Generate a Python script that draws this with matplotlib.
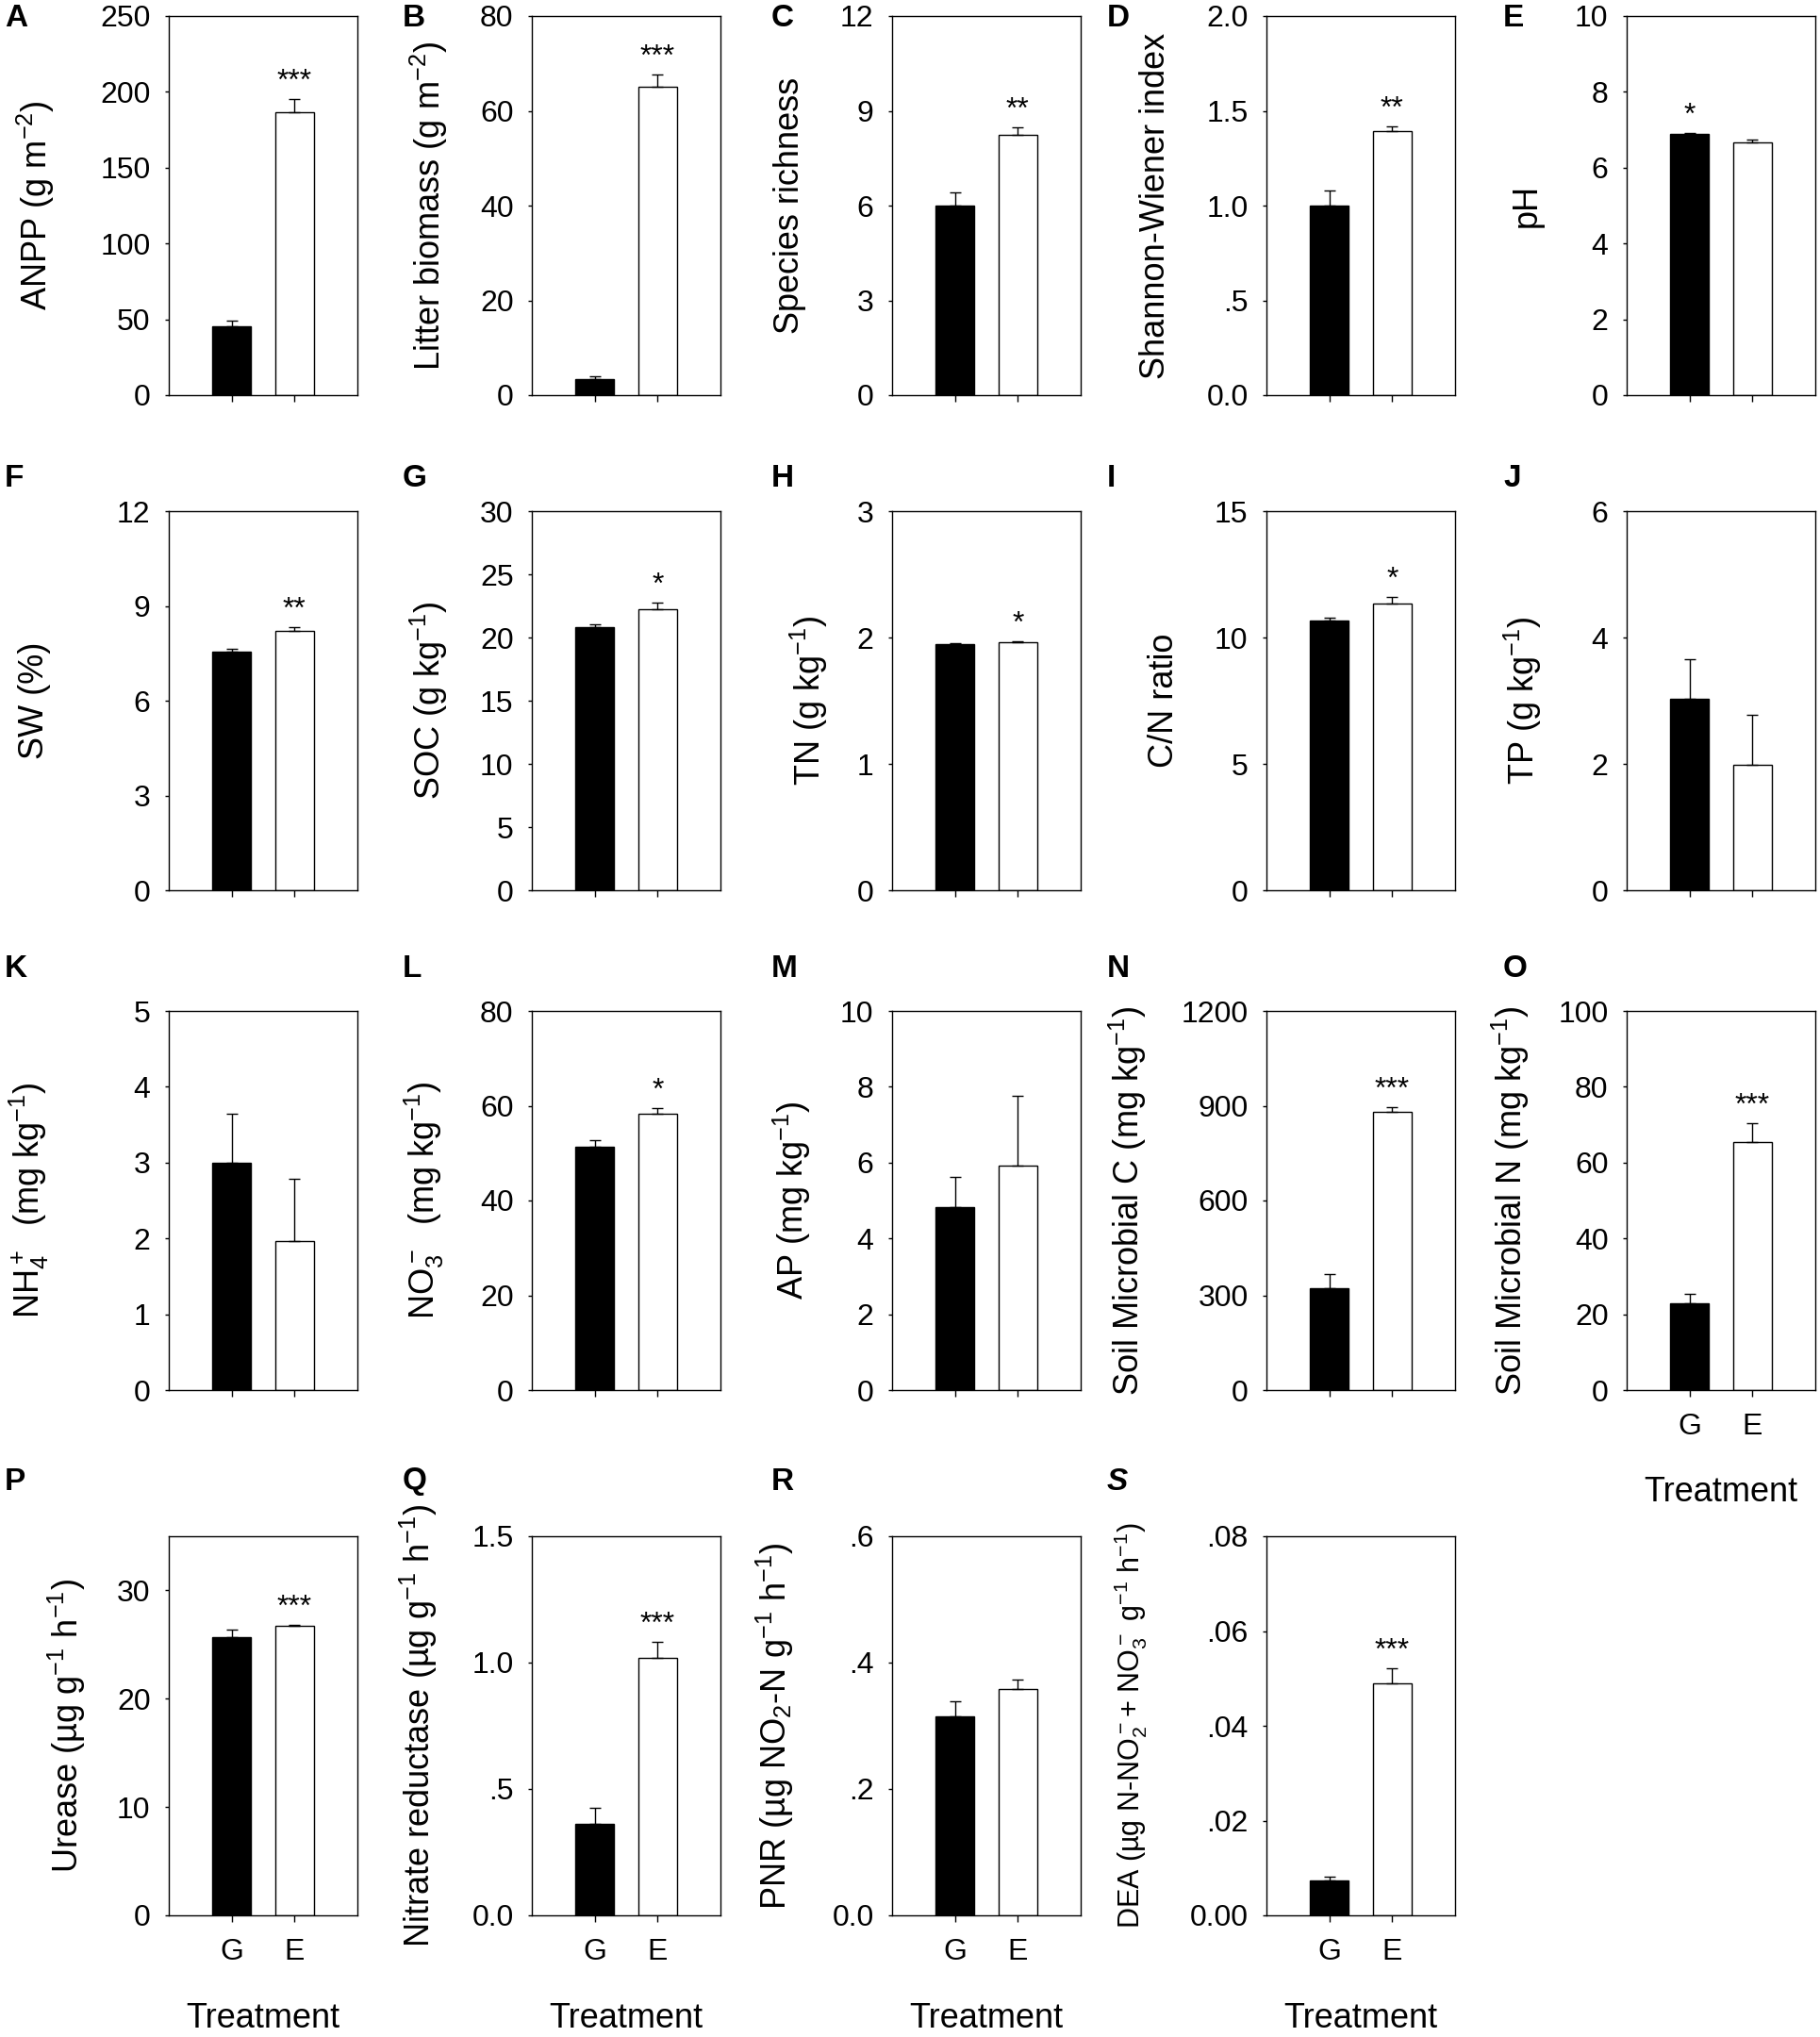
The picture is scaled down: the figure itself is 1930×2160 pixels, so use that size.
import matplotlib
matplotlib.use("Agg")
import matplotlib.pyplot as plt

plt.rcParams['font.family'] = ['Liberation Sans', 'DejaVu Sans']
plt.rcParams['mathtext.default'] = 'regular'

# ---- data ----
letters = list("ABCDEFGHIJKLMNOPQRS")
treatments = ["G", "E"]
ylabels = [
    "ANPP (g m$^{-2}$)",
    "Litter biomass (g m$^{-2}$)",
    "Species richness",
    "Shannon-Wiener index",
    "pH",
    "SW (%)",
    "SOC (g kg$^{-1}$)",
    "TN (g kg$^{-1}$)",
    "C/N ratio",
    "TP (g kg$^{-1}$)",
    "NH$_4^+$  (mg kg$^{-1}$)",
    "NO$_3^-$  (mg kg$^{-1}$)",
    "AP (mg kg$^{-1}$)",
    "Soil Microbial C (mg kg$^{-1}$)",
    "Soil Microbial N (mg kg$^{-1}$)",
    "Urease (µg g$^{-1}$ h$^{-1}$)",
    "Nitrate reductase (µg g$^{-1}$ h$^{-1}$)",
    "PNR (µg NO$_2$-N g$^{-1}$ h$^{-1}$)",
    "DEA (µg N-NO$_2^-$+ NO$_3^-$ g$^{-1}$ h$^{-1}$)",
]
g_mean = [45.4, 3.44, 6.0, 1.0, 6.89, 7.55, 20.8, 1.95, 10.68, 3.03,
          3.0, 51.3, 4.83, 321, 22.9, 25.7, 0.361, 0.3145, 0.0074]
g_err = [3.7, 0.55, 0.42, 0.08, 0.03, 0.08, 0.22, 0.007, 0.12, 0.63,
         0.64, 1.5, 0.79, 45, 2.5, 0.65, 0.065, 0.025, 0.0007]
e_mean = [186.4, 65.1, 8.24, 1.394, 6.67, 8.2, 22.25, 1.963, 11.36, 1.99,
          1.97, 58.3, 5.91, 881, 65.3, 26.7, 1.017, 0.3586, 0.049]
e_err = [8.7, 2.5, 0.24, 0.026, 0.07, 0.14, 0.49, 0.006, 0.23, 0.79,
         0.81, 1.3, 1.86, 16, 5.0, 0.1, 0.064, 0.014, 0.0032]
ymax = [250, 80, 12, 2.0, 10, 12, 30, 3, 15, 6,
        5, 80, 10, 1200, 100, 35, 1.5, 0.6, 0.08]
yticks = [
    [0, 50, 100, 150, 200, 250],
    [0, 20, 40, 60, 80],
    [0, 3, 6, 9, 12],
    [0, 0.5, 1.0, 1.5, 2.0],
    [0, 2, 4, 6, 8, 10],
    [0, 3, 6, 9, 12],
    [0, 5, 10, 15, 20, 25, 30],
    [0, 1, 2, 3],
    [0, 5, 10, 15],
    [0, 2, 4, 6],
    [0, 1, 2, 3, 4, 5],
    [0, 20, 40, 60, 80],
    [0, 2, 4, 6, 8, 10],
    [0, 300, 600, 900, 1200],
    [0, 20, 40, 60, 80, 100],
    [0, 10, 20, 30],
    [0, 0.5, 1.0, 1.5],
    [0, 0.2, 0.4, 0.6],
    [0, 0.02, 0.04, 0.06, 0.08],
]
ytick_labels = [
    ["0", "50", "100", "150", "200", "250"],
    ["0", "20", "40", "60", "80"],
    ["0", "3", "6", "9", "12"],
    ["0.0", ".5", "1.0", "1.5", "2.0"],
    ["0", "2", "4", "6", "8", "10"],
    ["0", "3", "6", "9", "12"],
    ["0", "5", "10", "15", "20", "25", "30"],
    ["0", "1", "2", "3"],
    ["0", "5", "10", "15"],
    ["0", "2", "4", "6"],
    ["0", "1", "2", "3", "4", "5"],
    ["0", "20", "40", "60", "80"],
    ["0", "2", "4", "6", "8", "10"],
    ["0", "300", "600", "900", "1200"],
    ["0", "20", "40", "60", "80", "100"],
    ["0", "10", "20", "30"],
    ["0.0", ".5", "1.0", "1.5"],
    ["0.0", ".2", ".4", ".6"],
    ["0.00", ".02", ".04", ".06", ".08"],
]
sig = ["***", "***", "**", "**", "*", "**", "*", "*", "*", "",
       "", "*", "", "***", "***", "***", "***", "", "***"]
sig_on = [1, 1, 1, 1, 0, 1, 1, 1, 1, 1,
          1, 1, 1, 1, 1, 1, 1, 1, 1]   # 0 = above G bar, 1 = above E bar
with_xlabels = ["O", "P", "Q", "R", "S"]

# ---- layout (pixels) ----
W, H = 1931, 2160
col_left = [179, 564, 946, 1343, 1725]
row_top = [17, 542, 1072, 1629]
box_w, box_h = 200, 402
letter_x = [5, 427, 818, 1174, 1594]
letter_y = [20, 508, 1028, 1571]
ylab_off = [-141, -109, -108, -118, -106, -142, -109, -88, -108, -110,
            -148, -114, -106, -147, -123, -108, -120, -124, -144]

fig = plt.figure(figsize=(W / 100, H / 100), dpi=100)

for i, let in enumerate(letters):
    r, c = divmod(i, 5)
    x0, y0 = col_left[c], row_top[r]
    ax = fig.add_axes([x0 / W, 1 - (y0 + box_h) / H, box_w / W, box_h / H])

    pos = [1, 2]
    ax.bar(pos, [g_mean[i], e_mean[i]], width=0.62,
           color=["black", "white"], edgecolor="black", linewidth=1.0, zorder=2)
    ax.errorbar(pos, [g_mean[i], e_mean[i]],
                yerr=[[0, 0], [g_err[i], e_err[i]]],
                fmt="none", ecolor="black", elinewidth=1.0,
                capsize=4, capthick=1.0, zorder=3)

    ax.set_xlim(0, 3)
    ax.set_ylim(0, ymax[i])
    ax.set_yticks(yticks[i])
    ax.set_yticklabels(ytick_labels[i])
    ax.set_xticks(pos)
    if let in with_xlabels:
        ax.set_xticklabels(treatments, fontsize=23)
        ax.text(0.5, -109 / box_h, "Treatment", transform=ax.transAxes,
                ha="center", va="center", fontsize=26)
    else:
        ax.set_xticklabels([])

    ax.tick_params(axis="y", direction="out", length=3, width=1,
                   labelsize=23, pad=11)
    ax.tick_params(axis="x", direction="out", length=5, width=1, pad=12)
    for sp in ax.spines.values():
        sp.set_linewidth(1.0)

    ax.set_ylabel(ylabels[i], fontsize=22 if let == "S" else 26, va="center")
    ax.yaxis.set_label_coords(ylab_off[i] / box_w, 0.5)

    if sig[i]:
        k = sig_on[i]
        top = [g_mean[i] + g_err[i], e_mean[i] + e_err[i]][k]
        ax.text(pos[k], top + 0.025 * ymax[i], sig[i], ha="center",
                va="baseline", fontsize=23)

    fig.text(letter_x[c] / W, 1 - letter_y[r] / H, let, fontsize=24,
             fontweight="bold", fontstyle="italic" if let == "S" else "normal",
             ha="left", va="center")

fig.savefig("out.png", dpi=100, facecolor="white")
